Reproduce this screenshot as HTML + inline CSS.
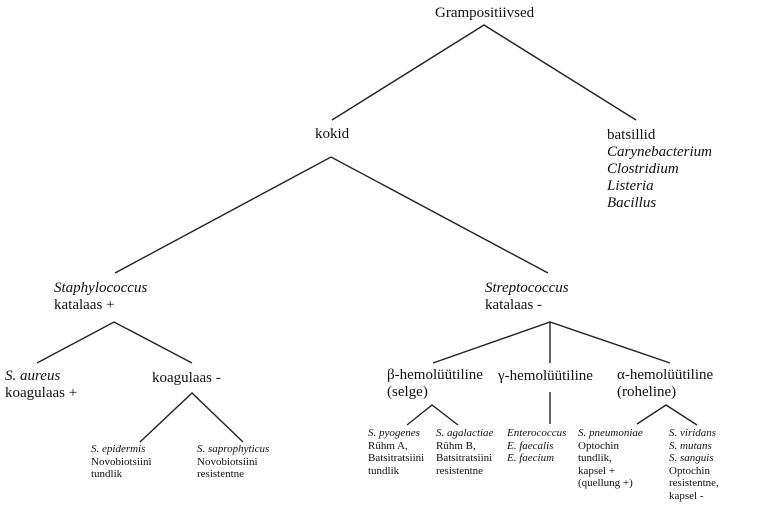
<!DOCTYPE html>
<html><head><meta charset="utf-8"><style>
html,body{margin:0;padding:0;background:#fff;}
#c{position:relative;width:763px;height:512px;overflow:hidden;font-family:"Liberation Serif",serif;color:#111;}
.t{position:absolute;font-size:15px;line-height:17px;white-space:nowrap;}
.s{position:absolute;font-size:11px;line-height:12.5px;white-space:nowrap;}
i{font-style:italic;}
svg{position:absolute;left:0;top:0;}
</style></head><body><div id="c">
<svg width="763" height="512"><g stroke="#222" stroke-width="1.4" fill="none">
<path d="M332 120 L484 25 L636 120"/>
<path d="M115 273 L331 157 L548 273"/>
<path d="M37 363 L114 322 L192 363"/>
<path d="M140 442 L192 393 L243 442"/>
<path d="M433 363 L550 322 L670 363 M550 322 L550 363"/>
<path d="M407 425 L432 405 L458 425"/>
<path d="M550 392 L550 424"/>
<path d="M637 424 L666 405 L697 425"/>
</g></svg>
<div class="t" style="left:435px;top:5px">Grampositiivsed</div>
<div class="t" style="left:315px;top:126px">kokid</div>
<div class="t" style="left:607px;top:127px">batsillid<br><i>Carynebacterium</i><br><i>Clostridium</i><br><i>Listeria</i><br><i>Bacillus</i></div>
<div class="t" style="left:54px;top:280px"><i>Staphylococcus</i><br>katalaas +</div>
<div class="t" style="left:485px;top:280px"><i>Streptococcus</i><br>katalaas -</div>
<div class="t" style="left:5px;top:368px"><i>S. aureus</i><br>koagulaas +</div>
<div class="t" style="left:152px;top:370px">koagulaas -</div>
<div class="t" style="left:387px;top:367px">β-hemolüütiline<br>(selge)</div>
<div class="t" style="left:498px;top:368px">γ-hemolüütiline</div>
<div class="t" style="left:617px;top:367px">α-hemolüütiline<br>(roheline)</div>
<div class="s" style="left:91px;top:443px"><i>S. epidermis</i><br>Novobiotsiini<br>tundlik</div>
<div class="s" style="left:197px;top:443px"><i>S. saprophyticus</i><br>Novobiotsiini<br>resistentne</div>
<div class="s" style="left:368px;top:427px"><i>S. pyogenes</i><br>Rühm A,<br>Batsitratsiini<br>tundlik</div>
<div class="s" style="left:436px;top:427px"><i>S. agalactiae</i><br>Rühm B,<br>Batsitratsiini<br>resistentne</div>
<div class="s" style="left:507px;top:427px"><i>Enterococcus</i><br><i>E. faecalis</i><br><i>E. faecium</i></div>
<div class="s" style="left:578px;top:427px"><i>S. pneumoniae</i><br>Optochin<br>tundlik,<br>kapsel +<br>(quellung +)</div>
<div class="s" style="left:669px;top:427px"><i>S. viridans</i><br><i>S. mutans</i><br><i>S. sanguis</i><br>Optochin<br>resistentne,<br>kapsel -</div>
</div></body></html>
